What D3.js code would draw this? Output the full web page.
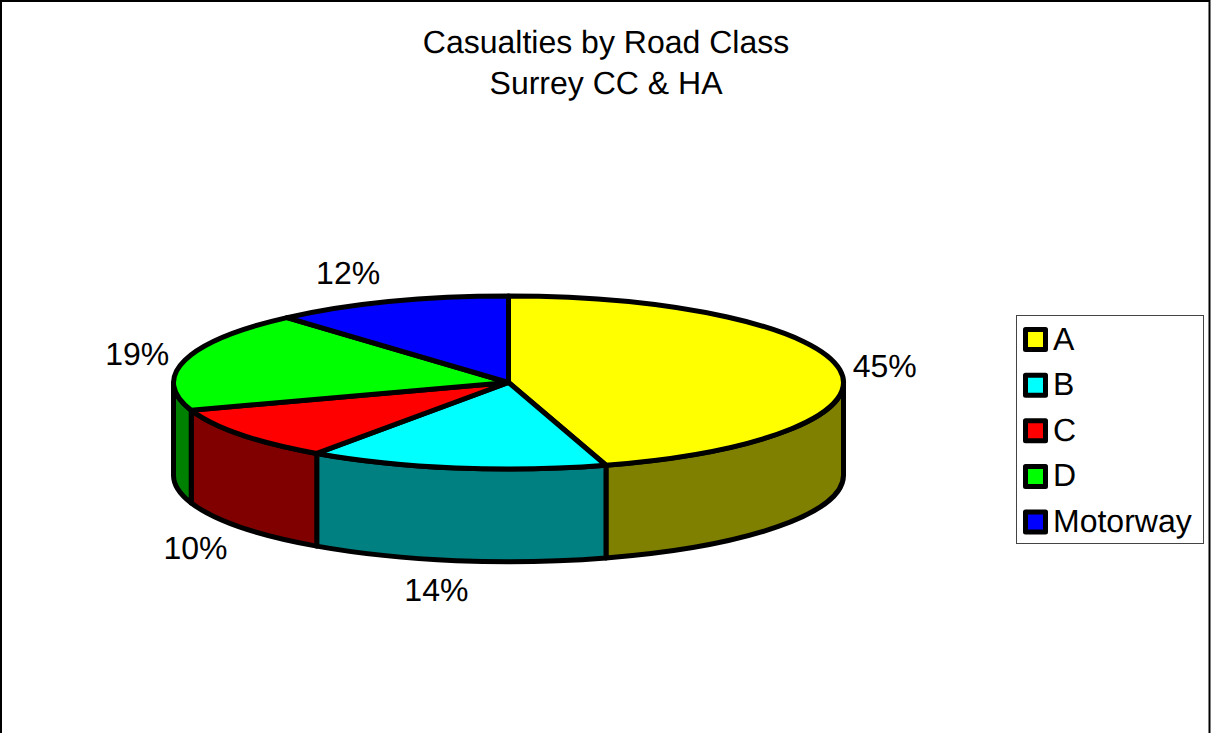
<!DOCTYPE html>
<html>
<head>
<meta charset="utf-8">
<script src="https://cdn.jsdelivr.net/npm/d3@7"></script>
<style>
  html, body { margin: 0; padding: 0; background: #fff; overflow: hidden; }
  svg { display: block; font-family: "Liberation Sans", Arial, sans-serif; text-rendering: geometricPrecision; }
</style>
</head>
<body>
<div id="chart"></div>
<script>
const categories = ['A', 'B', 'C', 'D', 'Motorway']
const values = [45.3, 14.4, 10.1, 18.7, 11.5]
const labels = ['45%', '14%', '10%', '19%', '12%']
const topColors = ['#ffff00', '#00ffff', '#ff0000', '#00ff00', '#0000ff']
const sideColors = ['#808000', '#008080', '#800000', '#008000', '#000080']
const titleLines = ['Casualties by Road Class', 'Surrey CC & HA']

const width = 1211
const height = 733
const fontSize = 32
const strokeWidth = 5

const center = { x: 508.5, y: 382.5 }
const radiusX = 335
const radiusY = 86.5
const depth = 92.7

// small hand adjustments to the computed label spots
const labelNudge = [[0, 0], [-3, 0], [-3, 3], [-3, 1], [-6, -2]]

const svg = d3
  .select('#chart')
  .append('svg')
  .attr('width', width)
  .attr('height', height)

// outer frame, the bottom edge is cut off in the original
svg
  .append('path')
  .attr('d', `M1 ${height}V1H1209.5V${height}`)
  .attr('fill', 'none')
  .attr('stroke', '#000')
  .attr('stroke-width', 2)

svg
  .append('text')
  .attr('text-anchor', 'middle')
  .attr('font-size', fontSize)
  .attr('fill', '#000')
  .selectAll('tspan')
  .data(titleLines)
  .join('tspan')
  .attr('x', 606)
  .attr('y', (_, i) => 53 + i * 41)
  .text(d => d)

const slices = d3.pie().sort(null).value(d => d)(values)

function ellipsePoint(angle, dy = 0) {
  return [
    center.x + radiusX * Math.sin(angle),
    center.y - radiusY * Math.cos(angle) + dy,
  ]
}

// side wall only exists on the front half of the ellipse
function wallPath(slice) {
  const start = Math.max(slice.startAngle, Math.PI / 2)
  const end = Math.min(slice.endAngle, (3 * Math.PI) / 2)
  if (end <= start) return null
  const [x0, y0] = ellipsePoint(start)
  const [x1, y1] = ellipsePoint(end)
  const r = `${radiusX} ${radiusY} 0 0`
  return `M${x0} ${y0}A${r} 1 ${x1} ${y1}V${y1 + depth}A${r} 0 ${x0} ${y0 + depth}Z`
}

const walls = svg.append('g')

slices.forEach((slice, i) => {
  const d = wallPath(slice)
  if (!d) return
  walls
    .append('path')
    .attr('d', d)
    .attr('fill', sideColors[i])
    .attr('stroke', '#000')
    .attr('stroke-width', strokeWidth)
    .attr('stroke-linejoin', 'round')
})

const arc = d3.arc().innerRadius(0).outerRadius(radiusX)

svg
  .append('g')
  .attr(
    'transform',
    `translate(${center.x},${center.y}) scale(1,${radiusY / radiusX})`,
  )
  .selectAll('path')
  .data(slices)
  .join('path')
  .attr('d', arc)
  .attr('fill', (_, i) => topColors[i])
  .attr('stroke', '#000')
  .attr('stroke-width', strokeWidth)
  .attr('stroke-linejoin', 'round')
  .attr('vector-effect', 'non-scaling-stroke')

// percentage labels sit just outside the rim, pushed sideways by their half width
svg
  .append('g')
  .attr('font-size', fontSize)
  .attr('fill', '#000')
  .attr('text-anchor', 'middle')
  .selectAll('text')
  .data(slices)
  .join('text')
  .attr('x', (d, i) => {
    const angle = (d.startAngle + d.endAngle) / 2
    const s = Math.sin(angle)
    return (
      center.x +
      (radiusX + 14) * s +
      31 * Math.sign(s) * Math.min(1, Math.abs(s) * 3) +
      labelNudge[i][0]
    )
  })
  .attr('y', (d, i) => {
    const angle = (d.startAngle + d.endAngle) / 2
    const c = Math.cos(angle)
    return (
      center.y - 116 * c + (c < 0 ? depth : 0) + fontSize * 0.36 + labelNudge[i][1]
    )
  })
  .text((_, i) => labels[i])

const legendBox = { x: 1016.5, y: 315.5, width: 187, height: 228 }
const legendRow = d3
  .scalePoint()
  .domain(categories)
  .range([339.5, 522])

svg
  .append('rect')
  .attr('x', legendBox.x)
  .attr('y', legendBox.y)
  .attr('width', legendBox.width)
  .attr('height', legendBox.height)
  .attr('fill', '#fff')
  .attr('stroke', '#444')
  .attr('stroke-width', 1)

const legendItems = svg
  .append('g')
  .selectAll('g')
  .data(categories)
  .join('g')
  .attr('transform', d => `translate(1025.5,${legendRow(d)})`)

legendItems
  .append('rect')
  .attr('y', -10)
  .attr('width', 20)
  .attr('height', 20)
  .attr('fill', (_, i) => topColors[i])
  .attr('stroke', '#000')
  .attr('stroke-width', strokeWidth)
  .attr('stroke-linejoin', 'round')

legendItems
  .append('text')
  .attr('x', 27.5)
  .attr('y', 10)
  .attr('font-size', fontSize)
  .attr('fill', '#000')
  .text(d => d)
</script>
</body>
</html>
